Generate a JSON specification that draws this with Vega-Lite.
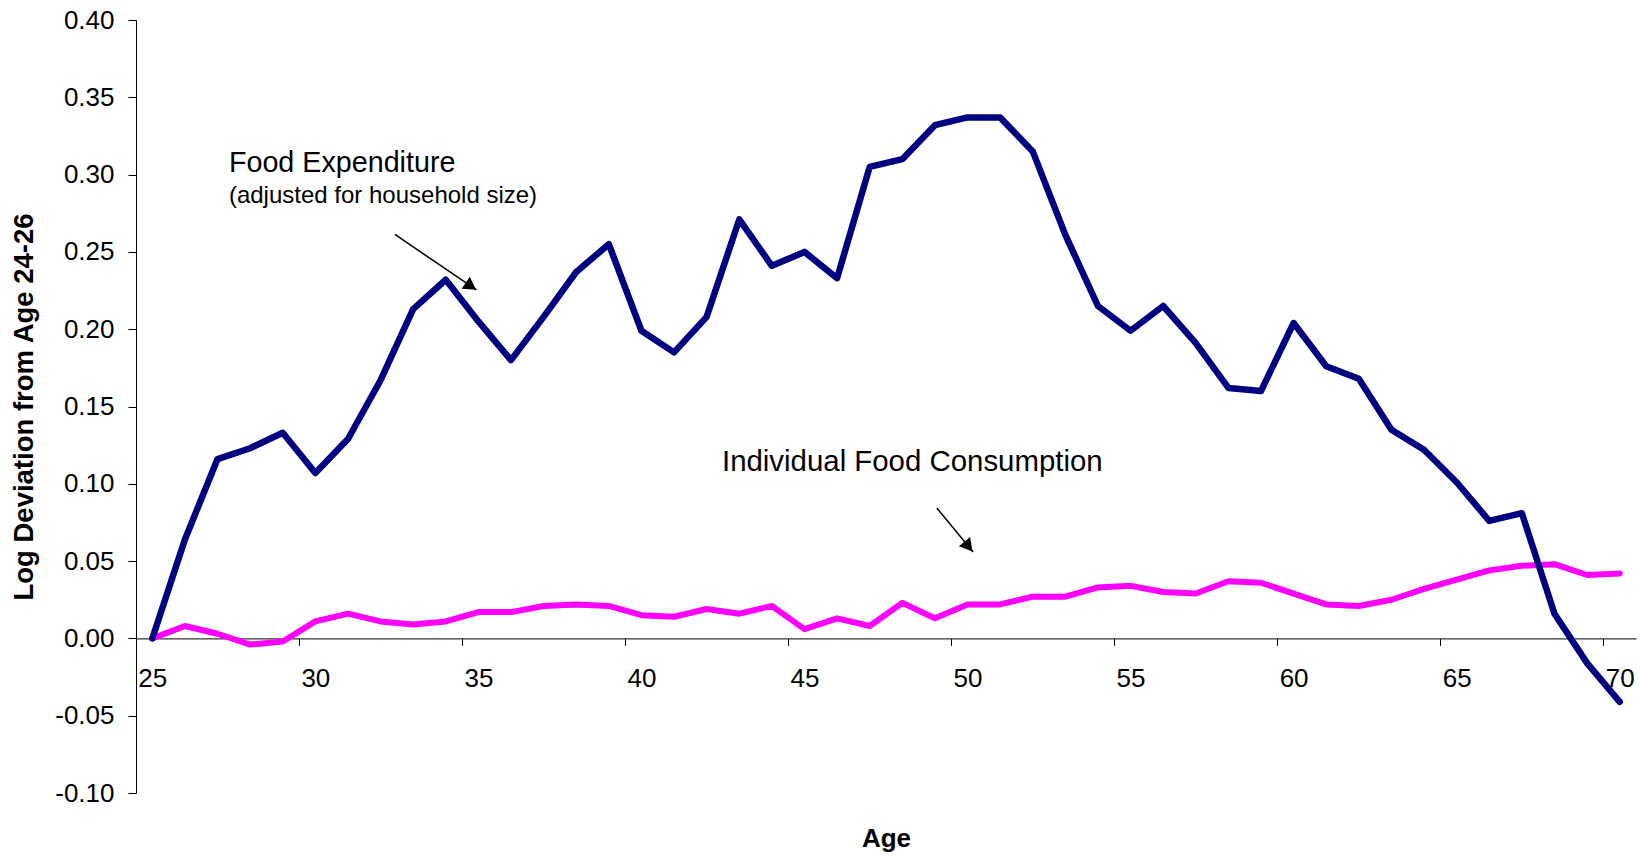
{
  "$schema": "https://vega.github.io/schema/vega-lite/v6.json",
  "autosize": {"type": "none"},
  "padding": {"left": 136, "top": 20, "right": 4, "bottom": 63},
  "width": 1500,
  "height": 773,
  "background": "white",
  "config": {"view": {"stroke": null}, "font": "Liberation Sans"},
  "datasets": {
    "series": [
      {"age": 25, "expenditure": 0.000, "consumption": 0.000},
      {"age": 26, "expenditure": 0.064, "consumption": 0.008},
      {"age": 27, "expenditure": 0.116, "consumption": 0.003},
      {"age": 28, "expenditure": 0.123, "consumption": -0.004},
      {"age": 29, "expenditure": 0.133, "consumption": -0.002},
      {"age": 30, "expenditure": 0.107, "consumption": 0.011},
      {"age": 31, "expenditure": 0.129, "consumption": 0.016},
      {"age": 32, "expenditure": 0.167, "consumption": 0.011},
      {"age": 33, "expenditure": 0.213, "consumption": 0.009},
      {"age": 34, "expenditure": 0.232, "consumption": 0.011},
      {"age": 35, "expenditure": 0.205, "consumption": 0.017},
      {"age": 36, "expenditure": 0.180, "consumption": 0.017},
      {"age": 37, "expenditure": 0.208, "consumption": 0.021},
      {"age": 38, "expenditure": 0.237, "consumption": 0.022},
      {"age": 39, "expenditure": 0.255, "consumption": 0.021},
      {"age": 40, "expenditure": 0.199, "consumption": 0.015},
      {"age": 41, "expenditure": 0.185, "consumption": 0.014},
      {"age": 42, "expenditure": 0.208, "consumption": 0.019},
      {"age": 43, "expenditure": 0.271, "consumption": 0.016},
      {"age": 44, "expenditure": 0.241, "consumption": 0.021},
      {"age": 45, "expenditure": 0.250, "consumption": 0.006},
      {"age": 46, "expenditure": 0.233, "consumption": 0.013},
      {"age": 47, "expenditure": 0.305, "consumption": 0.008},
      {"age": 48, "expenditure": 0.310, "consumption": 0.023},
      {"age": 49, "expenditure": 0.332, "consumption": 0.013},
      {"age": 50, "expenditure": 0.337, "consumption": 0.022},
      {"age": 51, "expenditure": 0.337, "consumption": 0.022},
      {"age": 52, "expenditure": 0.315, "consumption": 0.027},
      {"age": 53, "expenditure": 0.261, "consumption": 0.027},
      {"age": 54, "expenditure": 0.215, "consumption": 0.033},
      {"age": 55, "expenditure": 0.199, "consumption": 0.034},
      {"age": 56, "expenditure": 0.215, "consumption": 0.030},
      {"age": 57, "expenditure": 0.191, "consumption": 0.029},
      {"age": 58, "expenditure": 0.162, "consumption": 0.037},
      {"age": 59, "expenditure": 0.160, "consumption": 0.036},
      {"age": 60, "expenditure": 0.204, "consumption": 0.029},
      {"age": 61, "expenditure": 0.176, "consumption": 0.022},
      {"age": 62, "expenditure": 0.168, "consumption": 0.021},
      {"age": 63, "expenditure": 0.135, "consumption": 0.025},
      {"age": 64, "expenditure": 0.122, "consumption": 0.032},
      {"age": 65, "expenditure": 0.101, "consumption": 0.038},
      {"age": 66, "expenditure": 0.076, "consumption": 0.044},
      {"age": 67, "expenditure": 0.081, "consumption": 0.047},
      {"age": 68, "expenditure": 0.016, "consumption": 0.048},
      {"age": 69, "expenditure": -0.016, "consumption": 0.041},
      {"age": 70, "expenditure": -0.041, "consumption": 0.042}
    ]
  },
  "layer": [
    {
      "data": {"name": "series"},
      "mark": {"type": "line", "color": "#FF00FF", "strokeWidth": 6, "strokeJoin": "round", "strokeCap": "round", "clip": false},
      "encoding": {
        "x": {
          "field": "age", "type": "quantitative",
          "scale": {"domain": [24.5, 70.5], "nice": false, "zero": false},
          "axis": {
            "values": [24.5, 29.5, 34.5, 39.5, 44.5, 49.5, 54.5, 59.5, 64.5, 69.5],
            "labelExpr": "'' + (datum.value + 0.5)",
            "labelOffset": 16.3,
            "labelAlign": "center",
            "labelFlush": false,
            "labelOverlap": false,
            "labelBound": false,
            "offset": -154.6,
            "grid": false,
            "tickSize": 7,
            "tickColor": "black",
            "domainColor": "black",
            "tickWidth": 1,
            "domainWidth": 1,
            "labelFontSize": 26,
            "labelFont": "Liberation Sans",
            "labelColor": "black",
            "labelPadding": 20,
            "title": "Age",
            "titleFont": "Liberation Sans",
            "titleFontSize": 26,
            "titleFontWeight": "bold",
            "titleColor": "black",
            "titlePadding": 134
          }
        },
        "y": {
          "field": "consumption", "type": "quantitative",
          "scale": {"domain": [-0.1, 0.4], "nice": false, "zero": false},
          "axis": {
            "values": [-0.1, -0.05, 0, 0.05, 0.1, 0.15, 0.2, 0.25, 0.3, 0.35, 0.4],
            "labelExpr": "replace(format(datum.value, '.2f'), '\u2212', '-')",
            "grid": false,
            "tickSize": 8,
            "tickColor": "black",
            "domainColor": "black",
            "tickWidth": 1,
            "domainWidth": 1,
            "labelFontSize": 26,
            "labelFont": "Liberation Sans",
            "labelColor": "black",
            "labelPadding": 14,
            "title": "Log Deviation from Age 24-26",
            "titleFont": "Liberation Sans",
            "titleFontSize": 27.5,
            "titleFontWeight": "bold",
            "titleColor": "black",
            "titlePadding": 16
          }
        }
      }
    },
    {
      "data": {"name": "series"},
      "mark": {"type": "line", "color": "#000080", "strokeWidth": 6.5, "strokeJoin": "round", "strokeCap": "round", "clip": false},
      "encoding": {
        "x": {"field": "age", "type": "quantitative"},
        "y": {"field": "expenditure", "type": "quantitative"}
      }
    },
    {
      "data": {"values": [{"age": 27.35, "value": 0.3015, "text": "Food Expenditure"}]},
      "mark": {"type": "text", "align": "left", "baseline": "alphabetic", "fontSize": 28.7, "font": "Liberation Sans", "color": "black"},
      "encoding": {
        "x": {"field": "age", "type": "quantitative"},
        "y": {"field": "value", "type": "quantitative"},
        "text": {"field": "text"}
      }
    },
    {
      "data": {"values": [{"age": 27.35, "value": 0.2816, "text": "(adjusted for household size)"}]},
      "mark": {"type": "text", "align": "left", "baseline": "alphabetic", "fontSize": 24, "font": "Liberation Sans", "color": "black"},
      "encoding": {
        "x": {"field": "age", "type": "quantitative"},
        "y": {"field": "value", "type": "quantitative"},
        "text": {"field": "text"}
      }
    },
    {
      "data": {"values": [{"age": 42.47, "value": 0.108, "text": "Individual Food Consumption"}]},
      "mark": {"type": "text", "align": "left", "baseline": "alphabetic", "fontSize": 29.4, "font": "Liberation Sans", "color": "black"},
      "encoding": {
        "x": {"field": "age", "type": "quantitative"},
        "y": {"field": "value", "type": "quantitative"},
        "text": {"field": "text"}
      }
    },
    {
      "data": {"values": [
        {"age": 32.44, "value": 0.2613, "age2": 34.94, "value2": 0.2254},
        {"age": 49.06, "value": 0.0843, "age2": 50.17, "value2": 0.0559}
      ]},
      "mark": {"type": "rule", "color": "black", "strokeWidth": 1.5},
      "encoding": {
        "x": {"field": "age", "type": "quantitative"},
        "y": {"field": "value", "type": "quantitative"},
        "x2": {"field": "age2"},
        "y2": {"field": "value2"}
      }
    },
    {
      "data": {"values": [{"age": 34.77, "value": 0.2278}]},
      "mark": {"type": "point", "shape": "triangle-up", "filled": true, "color": "black", "opacity": 1, "size": 210, "angle": 124.3},
      "encoding": {
        "x": {"field": "age", "type": "quantitative"},
        "y": {"field": "value", "type": "quantitative"}
      }
    },
    {
      "data": {"values": [{"age": 50.03, "value": 0.0594}]},
      "mark": {"type": "point", "shape": "triangle-up", "filled": true, "color": "black", "opacity": 1, "size": 210, "angle": 140.7},
      "encoding": {
        "x": {"field": "age", "type": "quantitative"},
        "y": {"field": "value", "type": "quantitative"}
      }
    }
  ]
}
